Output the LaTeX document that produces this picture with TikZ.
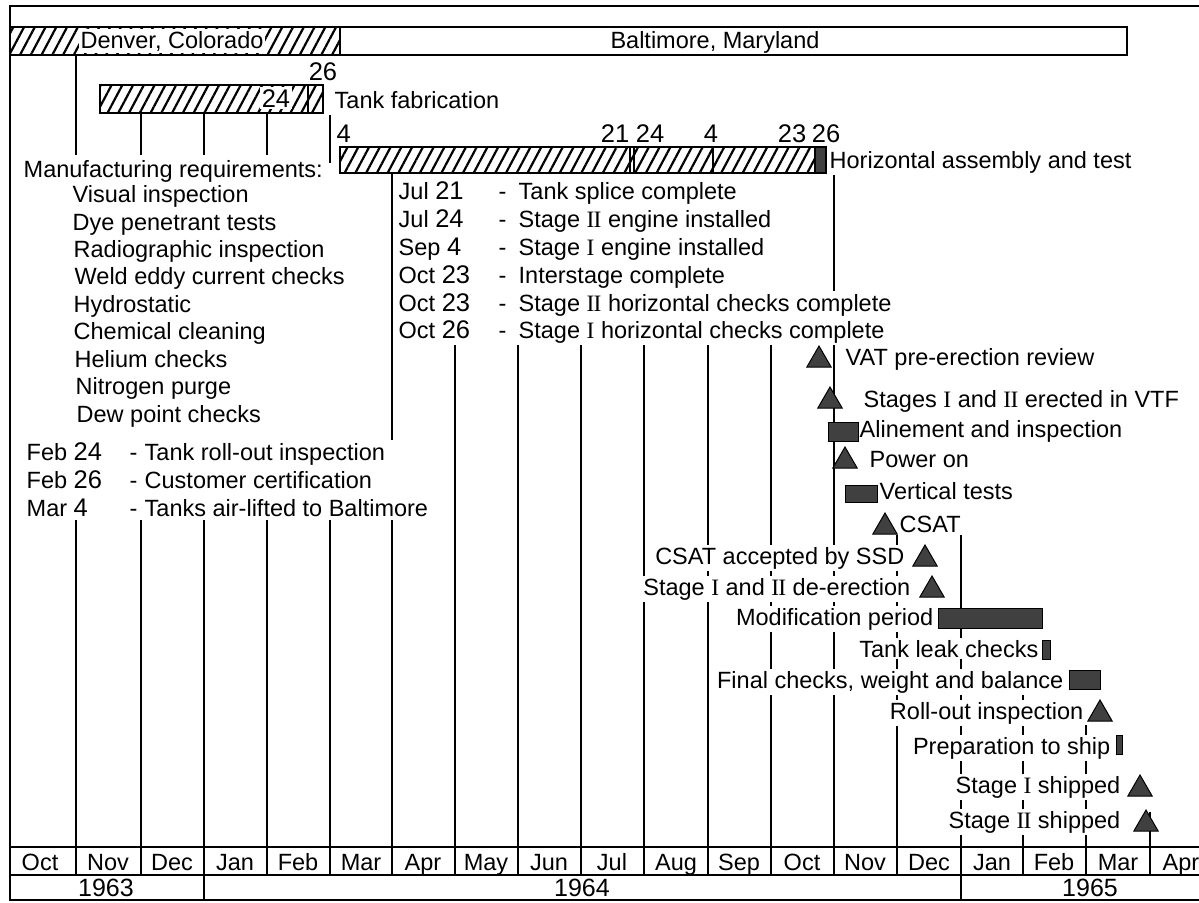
\documentclass[tikz,border=0pt]{standalone}
\usepackage{fontspec}
\setmainfont{Liberation Sans}
\newfontfamily\rnfont{Liberation Serif}
\usetikzlibrary{patterns.meta,shapes.geometric}
\newcommand{\RI}{{\rnfont I}}
\newcommand{\RII}{{\rnfont I\kern-0.8pt I}}
\newcommand{\dnum}[1]{{\fontsize{25.5}{26}\selectfont #1}}
\tikzset{
  txt/.style={font=\fontsize{23.5}{26}\selectfont, inner sep=0pt},
  lbl/.style={txt, fill=white, inner xsep=1.5pt, inner ysep=2pt},
  yr/.style={font=\fontsize{25}{26}\selectfont, inner sep=0pt, anchor=base},
  mon/.style={txt, anchor=base},
  frame/.style={line width=2pt},
  gridline/.style={line width=1.9pt},
  hatch/.style={pattern={Lines[angle=62,distance=9.5pt,line width=2.2pt]}},
  tri/.style={regular polygon, regular polygon sides=3, minimum size=28pt,
    inner sep=0pt, draw=black, line width=1pt, fill=black!75},
  dbar/.style={draw=black, line width=1pt, fill=black!75, inner sep=0pt}
}
\begin{document}
\begin{tikzpicture}[x=1pt,y=-1pt]
\useasboundingbox (0,0) rectangle (1199,902);
% grid lines
\foreach \x/\a/\b in {76/55/155, 141/113/155, 204/113/155, 267/113/155,
  330/115/163, 392/173/440, 76/520/875, 141/520/875, 204/520/900,
  267/520/875, 330/520/875, 392/520/875, 455/345/875, 518/345/875,
  581/345/875, 644/345/875, 708/345/875, 771/345/875, 834/173/875,
  897/535/875, 961/535/900, 1023/695/875, 1086/725/875, 1150/812/875}
  \draw[gridline] (\x,\a) -- (\x,\b);
% frame
\draw[frame] (1199,6) -- (10,6) -- (10,900) -- (1199,900);
\draw[frame] (10,847) -- (1199,847);
\draw[frame] (10,875) -- (1199,875);
% location bar
\draw[frame,hatch] (10,27) rectangle (340,55);
\draw[frame] (340,27) rectangle (1127,55);
% tank fabrication bar
\draw[frame,hatch] (100,85) rectangle (323,113);
\draw[frame] (308,85) -- (308,113);
% horizontal assembly bar
\draw[frame,hatch] (340,147) rectangle (826,173);
\fill[black!75] (815,147) rectangle (826,173);
\draw[frame] (340,147) rectangle (826,173);
\draw[frame] (630,147) -- (630,173) (634,147) -- (634,173)
  (713,147) -- (713,173) (815,147) -- (815,173);

% top labels
\node[txt, fill=white, text height=19pt, text depth=5pt, inner xsep=2pt, anchor=base] (denver) at (172,48) {Denver, Colorado};
\node[txt, anchor=base] (balt) at (715,48) {Baltimore, Maryland};
\node[txt, anchor=base] (d26a) at (323,80) {\dnum{26}};
\node[lbl, anchor=base] (d24a) at (276,107) {\dnum{24}};
\node[lbl, anchor=base west] (tankfab) at (333,108) {Tank fabrication};
\node[lbl, anchor=base west] (d4a) at (335,142) {\dnum{4}};
\node[txt, anchor=base] (d21) at (615,142) {\dnum{21}};
\node[txt, anchor=base] (d24b) at (650,142) {\dnum{24}};
\node[txt, anchor=base] (d4b) at (711,142) {\dnum{4}};
\node[txt, anchor=base] (d23) at (792,142) {\dnum{23}};
\node[txt, anchor=base] (d26b) at (826,142) {\dnum{26}};
\node[lbl, anchor=base west] (hat) at (828,168) {Horizontal assembly and test};

% manufacturing requirements
\node[lbl, anchor=base west] (mr) at (22,177) {Manufacturing requirements:};
\node[lbl, anchor=base west] (m1) at (71,202) {Visual inspection};
\node[lbl, anchor=base west] (m2) at (71,230) {Dye penetrant tests};
\node[lbl, anchor=base west] (m3) at (72,257) {Radiographic inspection};
\node[lbl, anchor=base west] (m4) at (73,284) {Weld eddy current checks};
\node[lbl, anchor=base west] (m5) at (72,312) {Hydrostatic};
\node[lbl, anchor=base west] (m6) at (72,339) {Chemical cleaning};
\node[lbl, anchor=base west] (m7) at (73,367) {Helium checks};
\node[lbl, anchor=base west] (m8) at (74,394) {Nitrogen purge};
\node[lbl, anchor=base west] (m9) at (75,422) {Dew point checks};

% left dated list
\node[lbl, anchor=base west] (f24) at (25,460) {\makebox[103pt][l]{Feb \dnum{24}}\makebox[15pt][l]{-}Tank roll-out inspection};
\node[lbl, anchor=base west] (f26) at (25,488) {\makebox[103pt][l]{Feb \dnum{26}}\makebox[15pt][l]{-}Customer certification};
\node[lbl, anchor=base west] (m4d) at (25,516) {\makebox[103pt][l]{Mar \dnum{4}}\makebox[15pt][l]{-}Tanks air-lifted to Baltimore};

% right dated list
\node[lbl, anchor=base west] (r1) at (397,199) {\makebox[100pt][l]{Jul \dnum{21}}\makebox[20pt][l]{-}Tank splice complete};
\node[lbl, anchor=base west] (r2) at (397,227) {\makebox[100pt][l]{Jul \dnum{24}}\makebox[20pt][l]{-}Stage \RII\ engine installed};
\node[lbl, anchor=base west] (r3) at (397,255) {\makebox[100pt][l]{Sep \dnum{4}}\makebox[20pt][l]{-}Stage \RI\ engine installed};
\node[lbl, anchor=base west] (r4) at (397,283) {\makebox[100pt][l]{Oct \dnum{23}}\makebox[20pt][l]{-}Interstage complete};
\node[lbl, anchor=base west] (r5) at (397,311) {\makebox[100pt][l]{Oct \dnum{23}}\makebox[20pt][l]{-}Stage \RII\ horizontal checks complete};
\node[lbl, anchor=base west] (r6) at (397,338) {\makebox[100pt][l]{Oct \dnum{26}}\makebox[20pt][l]{-}Stage \RI\ horizontal checks complete};

% right events, text
\node[lbl, anchor=base west] (e1) at (844,365) {VAT pre-erection review};
\node[lbl, anchor=base west] (e2) at (862,407) {Stages \RI\ and \RII\ erected in VTF};
\node[lbl, anchor=base west] (e3) at (858,437) {Alinement and inspection};
\node[lbl, anchor=base west] (e4) at (868,467) {Power on};
\node[lbl, anchor=base west] (e5) at (878,499) {Vertical tests};
\node[lbl, anchor=base west] (e6) at (898,532) {CSAT};
\node[lbl, anchor=base east] (e7) at (906,564) {CSAT accepted by SSD};
\node[lbl, anchor=base east] (e8) at (912,595) {Stage \RI\ and \RII\ de-erection};
\node[lbl, anchor=base east] (e9) at (935,625) {Modification period};
\node[lbl, anchor=base east] (e10) at (1040,657) {Tank leak checks};
\node[lbl, anchor=base east] (e11) at (1065,688) {Final checks, weight and balance};
\node[lbl, anchor=base east] (e12) at (1085,719) {Roll-out inspection};
\node[lbl, anchor=base east] (e13) at (1112,754) {Preparation to ship};
\node[lbl, anchor=base east] (e14) at (1122,793) {Stage \RI\ shipped};
\node[lbl, anchor=base east] (e15) at (1122,828) {Stage \RII\ shipped};

% markers
\node[tri] (k1) at (819,360) {};
\node[tri] (k2) at (830,401) {};
\node[dbar, minimum width=30pt, minimum height=19pt] (b1) at (843,431.5) {};
\node[tri] (k3) at (845,461) {};
\node[dbar, minimum width=32pt, minimum height=17pt] (b2) at (861,493.5) {};
\node[tri] (k4) at (885,527) {};
\node[tri] (k5) at (925,559) {};
\node[tri] (k6) at (932,590) {};
\node[dbar, minimum width=104pt, minimum height=20pt] (b3) at (990,618) {};
\node[dbar, minimum width=8pt, minimum height=19pt] (b4) at (1046,649.5) {};
\node[dbar, minimum width=31pt, minimum height=19pt] (b5) at (1084.5,679.5) {};
\node[tri] (k7) at (1100,714) {};
\node[dbar, minimum width=6pt, minimum height=19pt] (b6) at (1119,744.5) {};
\node[tri] (k8) at (1140,789) {};
\node[tri] (k9) at (1146,824) {};

% month axis
\foreach \m/\x [count=\i] in {Oct/40, Nov/108, Dec/172, Jan/235, Feb/298, Mar/361,
  Apr/423, May/486, Jun/549, Jul/612, Aug/676, Sep/739, Oct/802, Nov/865,
  Dec/929, Jan/992, Feb/1054, Mar/1118, Apr/1181}
  \node[mon] (mon\i) at (\x,870) {\m};
\node[yr] (y63) at (106,896) {1963};
\node[yr] (y64) at (582,896) {1964};
\node[yr] (y65) at (1090,896) {1965};
\end{tikzpicture}
\end{document}
